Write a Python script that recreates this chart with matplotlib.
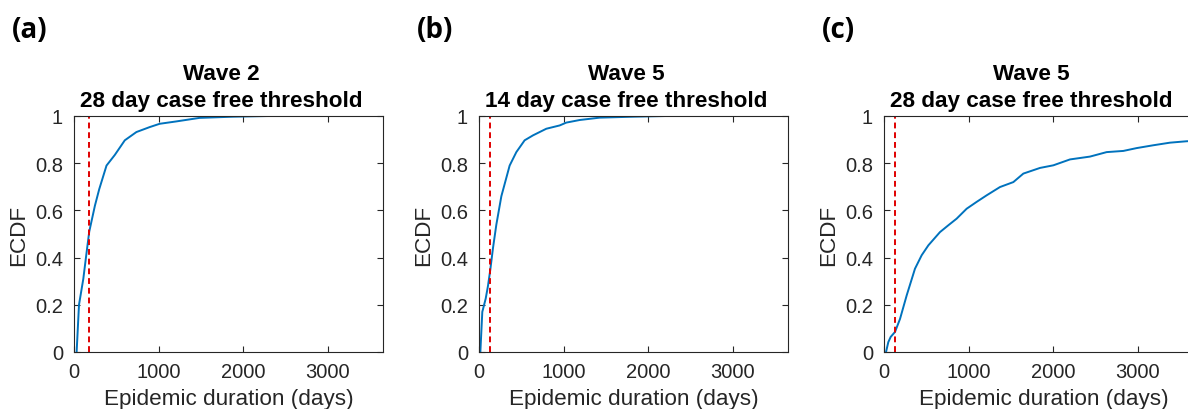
import numpy as np
import matplotlib.pyplot as plt

# ECDF curves (days, cumulative fraction)
a_days = [31, 59, 110, 141, 180, 247, 298, 384, 482, 600, 737, 894, 1012, 1208, 1482, 1875, 2300, 3700]
a_ecdf = [0, 0.2, 0.31, 0.40, 0.51, 0.62, 0.69, 0.79, 0.835, 0.897, 0.932, 0.953, 0.967, 0.977, 0.992, 0.997, 1.0, 1.0]

b_days = [16, 39, 79, 106, 134, 165, 205, 264, 362, 441, 539, 638, 795, 953, 1031, 1189, 1425, 1819, 2213, 3700]
b_ecdf = [0, 0.17, 0.226, 0.28, 0.35, 0.44, 0.54, 0.66, 0.79, 0.847, 0.897, 0.918, 0.946, 0.96, 0.972, 0.983, 0.993, 0.997, 1.0, 1.0]

c_days = [24, 51, 79, 130, 189, 268, 366, 445, 524, 661, 760, 858, 976, 1094, 1213, 1370, 1528, 1646,
          1843, 2000, 2197, 2433, 2630, 2827, 2984, 3181, 3378, 3575, 3800]
c_ecdf = [0, 0.042, 0.064, 0.085, 0.14, 0.24, 0.353, 0.41, 0.452, 0.508, 0.537, 0.565, 0.607, 0.636, 0.664,
          0.699, 0.72, 0.756, 0.78, 0.791, 0.816, 0.828, 0.847, 0.852, 0.864, 0.876, 0.887, 0.893, 0.897]

thresholds = [181, 132, 132]
titles = ['Wave 2\n28 day case free threshold',
          'Wave 5\n14 day case free threshold',
          'Wave 5\n28 day case free threshold']
panel_labels = ['(a)', '(b)', '(c)']

plt.rcParams['font.family'] = ['Liberation Sans', 'DejaVu Sans']

fig = plt.figure(figsize=(11.88, 4.10), dpi=100)
lefts = [74, 479, 884]
widths = [309, 309, 320]   # last panel runs off the right edge
curves = [(a_days, a_ecdf), (b_days, b_ecdf), (c_days, c_ecdf)]
dark = '#262626'

for i in range(3):
    ax = fig.add_axes([lefts[i] / 1188, 1 - 353 / 410, widths[i] / 1188, 236 / 410])
    x, y = curves[i]
    ax.plot(x, y, color='#0072BD', lw=1.4)
    ax.axvline(thresholds[i], color='#E00000', ls=(0, (3, 2)), lw=1.4)
    ax.set_xlim(0, 3650 * widths[i] / 309)
    ax.set_ylim(0, 1)
    ax.set_xticks([0, 1000, 2000, 3000])
    ax.set_yticks([0, 0.2, 0.4, 0.6, 0.8, 1])
    ax.set_yticklabels(['0', '0.2', '0.4', '0.6', '0.8', '1'])
    ax.tick_params(direction='in', top=True, right=True, length=4, width=0.8,
                   labelsize=14.5, colors=dark)
    ax.tick_params(axis='x', pad=7)
    ax.tick_params(axis='y', pad=8)
    for s in ax.spines.values():
        s.set_color(dark)
        s.set_linewidth(0.8)
    ax.set_xlabel('Epidemic duration (days)', fontsize=16.2, color=dark, labelpad=5)
    ax.set_ylabel('ECDF', fontsize=16.2, color=dark, labelpad=4)
    ax.set_title(titles[i], fontsize=16.2, fontweight='bold', linespacing=1.38, pad=7,
                 x=147.5 / widths[i])
    fig.text((lefts[i] - 62) / 1188, 1 - 30 / 410, panel_labels[i], fontsize=20,
             fontweight='bold', family='Open Sans', va='center', ha='left')

fig.savefig('out.png', dpi=100)
